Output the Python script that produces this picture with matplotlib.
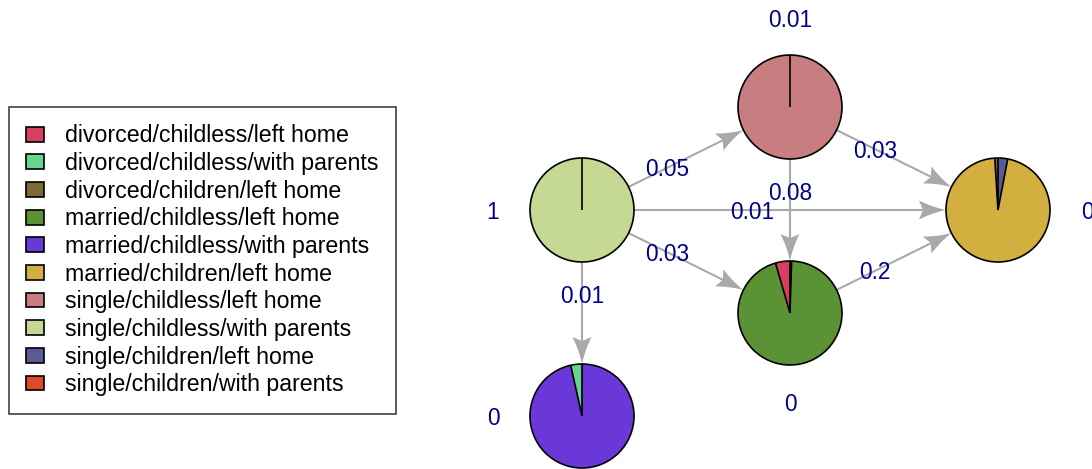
import matplotlib
matplotlib.use("Agg")
import matplotlib.pyplot as plt
from matplotlib.patches import Wedge, Circle, Polygon, Patch
import numpy as np

# ---------------- data ----------------
states = [
    "divorced/childless/left home",
    "divorced/childless/with parents",
    "divorced/children/left home",
    "married/childless/left home",
    "married/childless/with parents",
    "married/children/left home",
    "single/childless/left home",
    "single/childless/with parents",
    "single/children/left home",
    "single/children/with parents",
]
state_colors = ["#D6405E", "#66D68F", "#7D6A35", "#5A9235", "#6A38D9",
                "#D3AF40", "#C87D80", "#C5D995", "#595C94", "#E0482D"]

# emission probabilities per hidden state (order of `states`)
emis_s1 = [0, 0, 0, 0, 0, 0, 0, 1.0, 0, 0]
emis_s2 = [0, 0, 0, 0, 0, 0, 1.0, 0, 0, 0]
emis_s3 = [0.045, 0, 0, 0.95, 0, 0, 0, 0, 0.005, 0]
emis_s4 = [0, 0, 0.01, 0, 0, 0.96, 0, 0, 0.03, 0]
emis_s5 = [0, 0.035, 0, 0, 0.965, 0, 0, 0, 0, 0]
emissions = [emis_s1, emis_s2, emis_s3, emis_s4, emis_s5]

initial_probs = ["1", "0.01", "0", "0", "0"]

edge_from = [0, 0, 0, 0, 1, 1, 2]
edge_to = [1, 3, 2, 4, 2, 3, 3]
edge_labels = ["0.05", "0.01", "0.03", "0.01", "0.08", "0.03", "0.2"]

# ---------------- layout / style ----------------
layout_x = [0, 1, 1, 2, 0]
layout_y = [0, 1, -1, 0, -2]
label_angle = [180, 90, 270, 0, 180]   # direction of initial-prob labels

W, H = 1092, 469
X0, Y0, SX, SY = 582, 259, 208, 103
R = 52
LAB_DIST = 89
TXT_DY = -2
EDGE_COL = "#A9A9A9"
TXT_COL = "#00008B"
FONT = "Liberation Sans"
FS = 16.3

fig = plt.figure(figsize=(W / 100, H / 100), dpi=100)
ax = fig.add_axes([0, 0, 1, 1])
ax.set_xlim(0, W)
ax.set_ylim(0, H)
ax.set_axis_off()

cx = [X0 + SX * lx for lx in layout_x]
cy = [Y0 + SY * ly for ly in layout_y]

# edges
L, HW = 27, 9.5
s = np.linspace(0, 1, 20)
for f, t, lab in zip(edge_from, edge_to, edge_labels):
    p0 = np.array([cx[f], cy[f]])
    p1 = np.array([cx[t], cy[t]])
    d = (p1 - p0) / np.linalg.norm(p1 - p0)
    n = np.array([-d[1], d[0]])
    start = p0 + d * R
    tip = p1 - d * R
    back = tip - d * L * 0.85
    ax.plot([start[0], back[0]], [start[1], back[1]], color=EDGE_COL,
            lw=1.5, solid_capstyle="butt", zorder=1)
    sides = []
    for sign in (1, -1):
        ctrl = np.array([L * 0.5, sign * HW * 0.3])
        end = np.array([L, sign * HW])
        sides.append([(2 * (1 - u) * u) * ctrl + (u ** 2) * end for u in s])
    local = sides[0] + [np.array([L * 0.85, 0])] + sides[1][::-1]
    poly = [tip - d * q[0] + n * q[1] for q in local]
    ax.add_patch(Polygon(poly, closed=True, facecolor=EDGE_COL,
                         edgecolor="none", zorder=1))
    lp = p0 + (p1 - p0) * 0.41
    ax.text(lp[0], lp[1] + TXT_DY, lab, color=TXT_COL, fontsize=FS, family=FONT,
            ha="center", va="center", zorder=4)

# pie nodes
for i, probs in enumerate(emissions):
    cum = 0.0
    for p, col in zip(probs, state_colors):
        if p <= 0:
            continue
        th1 = 90 + 360 * cum
        th2 = 90 + 360 * (cum + p)
        ax.add_patch(Wedge((cx[i], cy[i]), R, th1, th2, facecolor=col,
                           edgecolor="none", zorder=2))
        a = np.deg2rad(th1)
        ax.plot([cx[i], cx[i] + R * np.cos(a)], [cy[i], cy[i] + R * np.sin(a)],
                color="black", lw=1.2, zorder=3, solid_capstyle="butt")
        cum += p
    ax.add_patch(Circle((cx[i], cy[i]), R, facecolor="none",
                        edgecolor="black", lw=1.2, zorder=3))
    a = np.deg2rad(label_angle[i])
    ax.text(cx[i] + LAB_DIST * np.cos(a), cy[i] + LAB_DIST * np.sin(a) + TXT_DY,
            initial_probs[i], color=TXT_COL, fontsize=FS, family=FONT,
            ha="center", va="center")

# legend
handles = [Patch(facecolor=c, edgecolor="black", lw=1.2) for c in state_colors]
leg = ax.legend(handles, states, loc="upper left",
                bbox_to_anchor=(9 / W, 1 - 107 / H), bbox_transform=ax.transAxes,
                borderaxespad=0, frameon=True, fancybox=False,
                prop={"family": FONT, "size": 16.7},
                handlelength=0.78, handleheight=0.6, handletextpad=0.9,
                labelspacing=0.2, borderpad=0.75)
leg.get_frame().set_edgecolor("black")
leg.get_frame().set_linewidth(1.1)

fig.savefig("out.png", dpi=100)
